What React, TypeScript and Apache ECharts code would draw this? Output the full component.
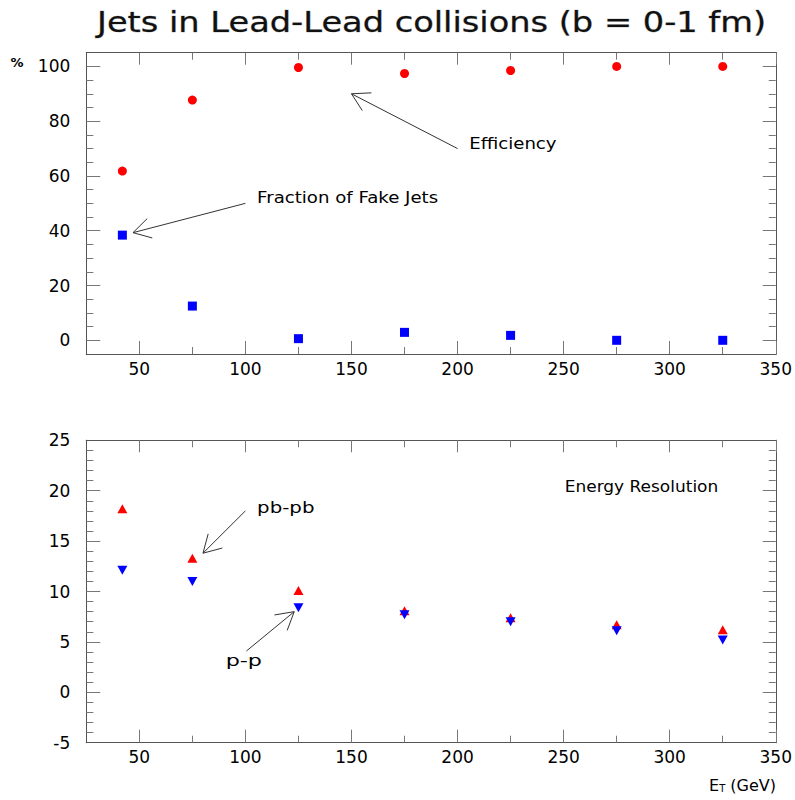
import React, { useEffect, useRef } from 'react';
import * as echarts from 'echarts';

// ---- data ----
const energies = [42, 75, 125, 175, 225, 275, 325];
const efficiency = [61.8, 87.7, 99.6, 97.4, 98.5, 100, 100];
const fakeFraction = [38.4, 12.5, 0.6, 2.9, 1.8, 0, 0];
const resPbPb = [18.2, 13.3, 10.1, 8.1, 7.4, 6.7, 6.2];
const resPP = [12.1, 11.0, 8.4, 7.7, 7.0, 6.1, 5.2];

// ---- ticks ----
const xMajorTicks = [50, 100, 150, 200, 250, 300, 350];
const xMinorTicks = [75, 125, 175, 225, 275, 325];
const topYLabels = [0, 20, 40, 60, 80, 100];
const topYMinor = [5, 10, 15, 25, 30, 35, 45, 50, 55, 65, 70, 75, 85, 90, 95];
const botYLabels = [-5, 0, 5, 10, 15, 20, 25];
const botYMajor = [0, 5, 10, 15, 20];
const botYMinor = [-4, -3, -2, -1, 1, 2, 3, 4, 6, 7, 8, 9, 11, 12, 13, 14, 16, 17, 18, 19, 21, 22, 23, 24];

const FONT = 'DejaVu Sans';
const FRAME = '#555';
const TICK = '#777';

function xAxis(gridIndex: number, position: string, ticks: number[], len: number, labels: boolean) {
  return {
    type: 'value', gridIndex, position, min: 25, max: 350,
    axisLine: { show: true, onZero: false, lineStyle: { color: FRAME, width: 1 } },
    axisTick: { show: true, inside: true, length: len, customValues: ticks, lineStyle: { color: TICK, width: 1 } },
    axisLabel: labels
      ? { show: true, customValues: xMajorTicks, margin: 6, fontSize: 17, color: '#000', fontFamily: FONT }
      : { show: false },
    splitLine: { show: false },
    minorTick: { show: false },
  };
}

function yAxis(gridIndex: number, position: string, min: number, max: number, ticks: number[], len: number, labels: number[] | null) {
  return {
    type: 'value', gridIndex, position, min, max,
    axisLine: { show: true, onZero: false, lineStyle: { color: FRAME, width: 1 } },
    axisTick: { show: true, inside: true, length: len, customValues: ticks, lineStyle: { color: TICK, width: 1 } },
    axisLabel: labels
      ? { show: true, customValues: labels, margin: 16, fontSize: 17, color: '#000', fontFamily: FONT }
      : { show: false },
    splitLine: { show: false },
    minorTick: { show: false },
  };
}

const pairs = (ys: number[]) => energies.map((x, i) => [x, ys[i]]);

type Arrow = { grid: number; tail: number[]; tip: number[] };
const arrows: Arrow[] = [
  { grid: 0, tail: [200, 70], tip: [150, 90] },
  { grid: 0, tail: [100, 50], tip: [47, 39.3] },
  { grid: 1, tail: [100, 18], tip: [80, 13.8] },
  { grid: 1, tail: [100.5, 4.1], tip: [123, 8] },
];
type Note = { grid: number; at: number[]; text: string; sx: number };
const notes: Note[] = [
  { grid: 0, at: [205.5, 72], text: 'Efficiency', sx: 1.1 },
  { grid: 0, at: [105.5, 52.3], text: 'Fraction of Fake Jets', sx: 1.1 },
  { grid: 1, at: [105.5, 18.4], text: 'pb-pb', sx: 1.2 },
  { grid: 1, at: [90.7, 3.2], text: 'p-p', sx: 1.35 },
  { grid: 1, at: [250.5, 20.5], text: 'Energy Resolution', sx: 1.03 },
];

export default function App() {
  const ref = useRef<HTMLDivElement>(null);
  useEffect(() => {
    if (!ref.current) return;
    const chart = echarts.init(ref.current, null, { renderer: 'svg' });
    const gridW = 689.7;
    chart.setOption({
      animation: false,
      backgroundColor: '#fff',
      grid: [
        { left: 86.3, top: 52.7, width: gridW, height: 301.3, containLabel: false },
        { left: 86.3, top: 440.3, width: gridW, height: 302.4, containLabel: false },
      ],
      xAxis: [
        xAxis(0, 'bottom', xMajorTicks, 13, true),
        xAxis(0, 'top', xMajorTicks, 12, false),
        xAxis(0, 'bottom', xMinorTicks, 7, false),
        xAxis(0, 'top', xMinorTicks, 7, false),
        xAxis(1, 'bottom', xMajorTicks, 13, true),
        xAxis(1, 'top', xMajorTicks, 12, false),
        xAxis(1, 'bottom', xMinorTicks, 7, false),
        xAxis(1, 'top', xMinorTicks, 7, false),
      ],
      yAxis: [
        yAxis(0, 'left', -5, 105, topYLabels, 14, topYLabels),
        yAxis(0, 'right', -5, 105, topYLabels, 13, null),
        yAxis(0, 'left', -5, 105, topYMinor, 7, null),
        yAxis(0, 'right', -5, 105, topYMinor, 7, null),
        yAxis(1, 'left', -5, 25, botYMajor, 14, botYLabels),
        yAxis(1, 'right', -5, 25, botYMajor, 13, null),
        yAxis(1, 'left', -5, 25, botYMinor, 7, null),
        yAxis(1, 'right', -5, 25, botYMinor, 7, null),
      ],
      series: [
        { type: 'scatter', name: 'Efficiency', xAxisIndex: 0, yAxisIndex: 0, data: pairs(efficiency),
          symbol: 'circle', symbolSize: 9, itemStyle: { color: '#ff0000', opacity: 1 } },
        { type: 'scatter', name: 'Fraction of Fake Jets', xAxisIndex: 0, yAxisIndex: 0, data: pairs(fakeFraction),
          symbol: 'rect', symbolSize: 9, itemStyle: { color: '#0000ff', opacity: 1 } },
        { type: 'scatter', name: 'pb-pb', xAxisIndex: 4, yAxisIndex: 4, data: pairs(resPbPb),
          symbol: 'triangle', symbolSize: [10, 9], itemStyle: { color: '#ff0000', opacity: 1 } },
        { type: 'scatter', name: 'p-p', xAxisIndex: 4, yAxisIndex: 4, data: pairs(resPP),
          symbol: 'triangle', symbolRotate: 180, symbolSize: [10, 9], itemStyle: { color: '#0000ff', opacity: 1 } },
      ],
    });

    const toPx = (grid: number, p: number[]) => chart.convertToPixel({ gridIndex: grid } as any, p) as number[];
    const graphics: any[] = [];
    graphics.push({
      type: 'text', x: 97, y: 22, scaleX: 1.16,
      style: {
        text: 'Jets in Lead-Lead collisions (b = 0-1 fm)', fontFamily: FONT, fontSize: 29,
        fill: '#111', verticalAlign: 'middle', align: 'left',
        stroke: '#999', lineWidth: 0.6,
      },
    });
    graphics.push({
      type: 'text', x: 17, y: 62,
      style: { text: '%', fontFamily: FONT, fontSize: 13, fontWeight: 'bold', fill: '#000', align: 'center', verticalAlign: 'middle' },
    });
    graphics.push({
      type: 'text', x: 776, y: 785,
      style: {
        text: '{e|E}{t|T}{g| (GeV)}', align: 'right', verticalAlign: 'middle', fill: '#000',
        rich: {
          e: { fontFamily: FONT, fontSize: 16, fill: '#000' },
          t: { fontFamily: FONT, fontSize: 10, fill: '#000', verticalAlign: 'bottom', padding: [7, 0, 0, 0] },
          g: { fontFamily: FONT, fontSize: 16, fill: '#000' },
        },
      },
    });
    arrows.forEach((a) => {
      const s = toPx(a.grid, a.tail);
      const t = toPx(a.grid, a.tip);
      const ang = Math.atan2(s[1] - t[1], s[0] - t[0]);
      const L = 20, h = Math.PI / 6;
      const p1 = [t[0] + L * Math.cos(ang + h), t[1] + L * Math.sin(ang + h)];
      const p2 = [t[0] + L * Math.cos(ang - h), t[1] + L * Math.sin(ang - h)];
      graphics.push({ type: 'line', shape: { x1: s[0], y1: s[1], x2: t[0], y2: t[1] }, style: { stroke: '#333', lineWidth: 1 } });
      graphics.push({ type: 'polyline', shape: { points: [p1, t, p2] }, style: { stroke: '#333', lineWidth: 1, fill: null } });
    });
    notes.forEach((n) => {
      const p = toPx(n.grid, n.at);
      graphics.push({
        type: 'text', x: p[0], y: p[1], scaleX: n.sx,
        style: { text: n.text, fontFamily: FONT, fontSize: 16.5, fill: '#000', align: 'left', verticalAlign: 'middle' },
      });
    });
    chart.setOption({ graphic: graphics });
    return () => chart.dispose();
  }, []);
  return <div ref={ref} style={{ position: 'absolute', left: 0, top: 0, width: 795, height: 800 }} />;
}
